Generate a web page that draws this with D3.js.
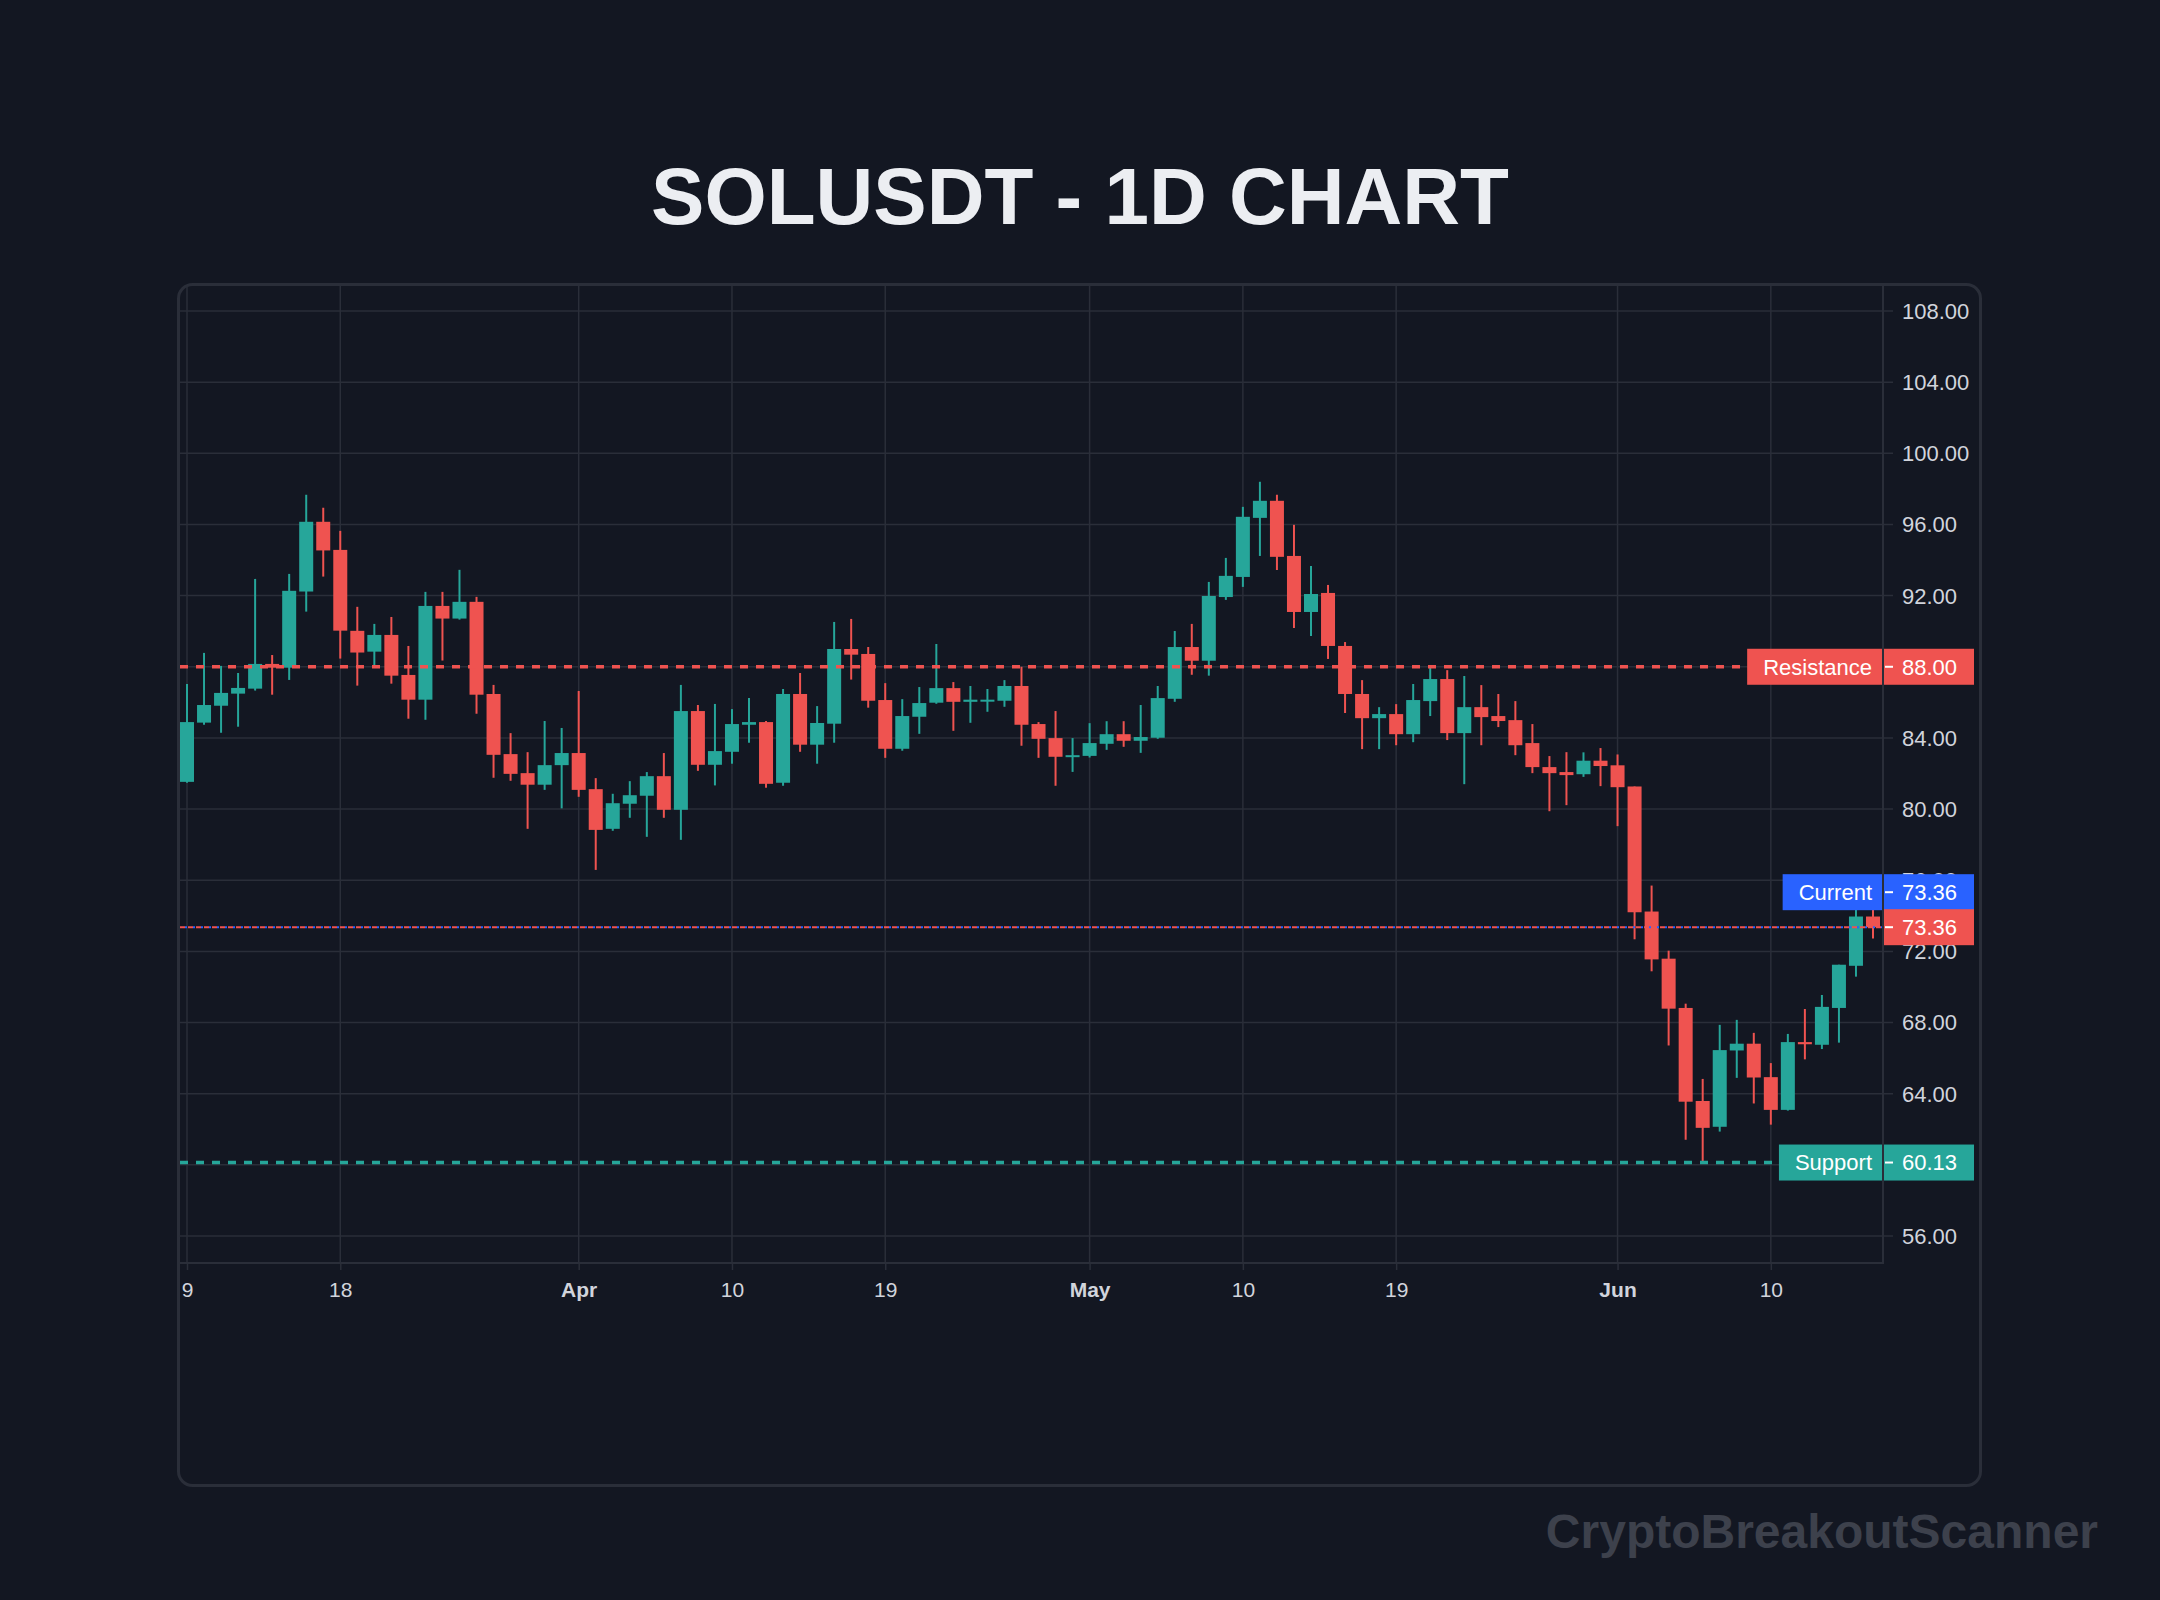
<!DOCTYPE html>
<meta charset="utf-8">
<style>
body { margin: 0; background: #131722; }
svg { display: block; }
text { font-family: "Liberation Sans", Arial, sans-serif; }
</style>
<body>
<script src="https://d3js.org/d3.v7.min.js"></script>
<script>

var width = 2160
var height = 1600

// daily candles, starting 9 March
var startDate = new Date(2024, 2, 9)

var opens = [81.53,84.86,85.81,86.49,86.77,88.16,87.95,92.23,96.15,94.57,
  90.02,88.85,89.79,87.54,86.15,91.42,90.71,91.65,86.47,83.09,
  82.02,81.37,82.47,83.15,81.12,78.89,80.30,80.75,81.85,79.96,
  85.51,82.49,83.22,84.74,84.89,81.48,86.47,83.62,84.80,89.00,
  88.72,86.13,83.39,85.19,85.98,86.80,86.03,86.09,86.09,86.92,
  84.78,83.99,82.94,82.99,83.67,84.21,83.84,84.01,86.20,89.11,
  88.34,91.92,93.05,96.37,97.33,94.23,91.08,92.15,89.17,86.47,
  85.11,85.34,84.21,86.07,87.31,84.27,85.73,85.23,85.00,83.71,
  82.36,82.08,81.96,82.72,82.46,81.27,74.24,71.59,68.82,63.59,
  62.14,66.43,66.81,64.93,63.09,66.90,66.75,68.82,71.19,73.96]

var highs = [87.03,88.78,88.05,87.65,92.94,88.66,93.22,97.67,96.94,95.64,
  91.37,90.41,90.80,89.17,92.21,92.21,93.45,91.93,86.98,84.27,
  83.20,84.95,84.56,86.64,81.74,80.86,81.57,82.08,83.15,86.98,
  85.85,85.91,85.62,86.24,84.95,86.75,87.65,85.79,90.52,90.69,
  89.11,87.08,86.18,86.86,89.28,87.14,86.92,86.75,87.25,88.00,
  84.89,85.51,83.99,84.83,84.94,84.94,85.85,86.92,90.01,90.41,
  92.77,94.12,96.99,98.40,97.67,95.98,93.67,92.60,89.39,87.25,
  85.73,85.90,87.03,87.98,87.81,87.48,86.97,86.47,86.07,84.78,
  82.98,83.20,83.19,83.43,83.07,81.27,75.70,72.04,69.06,64.83,
  67.87,68.15,67.42,65.72,67.36,68.76,69.55,71.25,76.09,74.40]

var lows = [81.48,84.74,84.29,84.63,86.66,86.43,87.26,91.10,93.07,88.46,
  86.94,88.06,87.05,85.08,85.02,88.35,90.65,85.36,81.76,81.59,
  78.89,81.08,80.04,80.69,76.58,78.78,79.51,78.44,79.51,78.27,
  82.15,81.33,82.55,83.73,81.20,81.31,83.22,82.55,83.73,87.28,
  85.70,82.88,83.28,84.23,85.92,84.40,84.85,85.47,85.75,83.56,
  82.88,81.31,82.09,82.90,83.33,83.50,83.16,83.95,86.03,87.55,
  87.50,91.76,92.49,94.23,93.44,90.18,89.73,88.44,85.40,83.37,
  83.37,83.59,83.76,85.23,83.88,81.40,83.59,84.61,83.03,82.02,
  79.88,80.22,81.81,81.29,79.04,72.68,70.88,66.71,61.41,60.07,
  61.87,64.89,63.45,62.26,63.05,65.93,66.51,66.87,70.58,72.72]

var closes = [84.89,85.85,86.53,86.81,88.16,87.95,92.27,96.15,94.54,90.03,
  88.80,89.79,87.50,86.15,91.42,90.71,91.65,86.43,83.05,81.98,
  81.37,82.47,83.15,81.08,78.83,80.33,80.78,81.85,79.96,85.51,
  82.49,83.26,84.78,84.89,81.42,86.47,83.62,84.84,89.00,88.68,
  86.09,83.39,85.23,85.96,86.80,86.03,86.15,86.15,86.92,84.74,
  83.95,82.94,83.03,83.71,84.21,83.84,84.05,86.24,89.11,88.34,
  91.98,93.11,96.43,97.33,94.18,91.08,92.09,89.17,86.47,85.11,
  85.34,84.21,86.13,87.31,84.27,85.73,85.17,84.95,83.59,82.36,
  82.02,81.91,82.72,82.42,81.23,74.20,71.55,68.78,63.55,62.08,
  66.45,66.81,64.91,63.09,66.90,66.78,68.88,71.25,73.96,73.36]

var tickDates = [new Date(2024,2,9), new Date(2024,2,18), new Date(2024,3,1),
  new Date(2024,3,10), new Date(2024,3,19), new Date(2024,4,1), new Date(2024,4,10),
  new Date(2024,4,19), new Date(2024,5,1), new Date(2024,5,10)]
var tickLabels = ["9", "18", "Apr", "10", "19", "May", "10", "19", "Jun", "10"]

var priceTicks = [56, 60, 64, 68, 72, 76, 80, 84, 88, 92, 96, 100, 104, 108]

var resistance = 88.00
var support = 60.13
var current = 73.36

var upColor = "#26a69a"
var downColor = "#ef5350"
var blue = "#2962ff"
var gridColor = "#2a2e39"
var textColor = "#d1d4dc"

var dates = opens.map(function(d, i) { return d3.timeDay.offset(startDate, i) })

// plot box
var plotLeft = 179, plotRight = 1884, plotTop = 286, plotBottom = 1263

var x = d3.scaleTime()
    .domain([dates[0], dates[dates.length - 1]])
    .range([187, 1873])

var y = d3.scaleLinear()
    .domain([56, 108])
    .range([1236, 311])

var svg = d3.select("body").append("svg")
    .attr("width", width)
    .attr("height", height)

svg.append("rect")
    .attr("width", width)
    .attr("height", height)
    .attr("fill", "#131722")

svg.append("text")
    .attr("x", width / 2)
    .attr("y", 224)
    .attr("text-anchor", "middle")
    .attr("font-size", 80)
    .attr("font-weight", "bold")
    .attr("fill", "#eceef2")
    .text("SOLUSDT - 1D CHART")

svg.append("rect")
    .attr("x", 178.5)
    .attr("y", 284.5)
    .attr("width", 1802)
    .attr("height", 1201)
    .attr("rx", 14)
    .attr("fill", "none")
    .attr("stroke", gridColor)
    .attr("stroke-width", 3)

// grid
var grid = svg.append("g")
    .attr("stroke", gridColor)
    .attr("stroke-width", 1.5)

grid.selectAll(".hgrid")
    .data(priceTicks)
  .enter().append("line")
    .attr("class", "hgrid")
    .attr("x1", plotLeft)
    .attr("x2", plotRight + 9)
    .attr("y1", function(d) { return y(d) })
    .attr("y2", function(d) { return y(d) })

grid.selectAll(".vgrid")
    .data(tickDates)
  .enter().append("line")
    .attr("class", "vgrid")
    .attr("x1", function(d) { return x(d) })
    .attr("x2", function(d) { return x(d) })
    .attr("y1", plotTop)
    .attr("y2", plotBottom)

// x axis
var xAxis = d3.axisBottom(x)
    .tickValues(tickDates)
    .tickSize(7)
    .tickPadding(12)
    .tickFormat(function(d, i) { return tickLabels[i] })

var xa = svg.append("g")
    .attr("transform", "translate(0," + plotBottom + ")")
    .call(xAxis)
xa.select(".domain").remove()
xa.selectAll(".tick line").attr("stroke", gridColor).attr("stroke-width", 1.5)
xa.selectAll(".tick text")
    .attr("fill", textColor)
    .attr("font-size", 21)
    .attr("font-family", "Liberation Sans, Arial, sans-serif")
    .attr("font-weight", function(d, i) { return /[A-Za-z]/.test(tickLabels[i]) ? "bold" : "normal" })

// candles
var candles = svg.append("g")
    .selectAll("g")
    .data(dates)
  .enter().append("g")

candles.append("line")
    .attr("x1", function(d) { return x(d) })
    .attr("x2", function(d) { return x(d) })
    .attr("y1", function(d, i) { return y(highs[i]) })
    .attr("y2", function(d, i) { return y(lows[i]) })
    .attr("stroke-width", 2)
    .attr("stroke", function(d, i) { return closes[i] >= opens[i] ? upColor : downColor })

candles.append("rect")
    .attr("x", function(d) { return x(d) - 7 })
    .attr("width", 14)
    .attr("y", function(d, i) { return y(Math.max(opens[i], closes[i])) })
    .attr("height", function(d, i) { return Math.max(2, Math.abs(y(opens[i]) - y(closes[i]))) })
    .attr("fill", function(d, i) { return closes[i] >= opens[i] ? upColor : downColor })

// support / resistance lines go under the labels
var levels = svg.append("g")

function level(price, color, endX) {
  levels.append("line")
      .attr("x1", plotLeft + 1)
      .attr("x2", endX)
      .attr("y1", y(price))
      .attr("y2", y(price))
      .attr("stroke", color)
      .attr("stroke-width", 3.5)
      .attr("stroke-dasharray", "8 8")
}

// last price line: red and blue dashes
svg.append("line")
    .attr("x1", plotLeft + 1).attr("x2", plotRight)
    .attr("y1", y(current)).attr("y2", y(current))
    .attr("stroke", downColor)
    .attr("stroke-width", 2)
    .attr("stroke-dasharray", "5 3")
svg.append("line")
    .attr("x1", plotLeft + 1).attr("x2", plotRight)
    .attr("y1", y(current)).attr("y2", y(current))
    .attr("stroke", blue)
    .attr("stroke-width", 2)
    .attr("stroke-dasharray", "2 6")
    .attr("stroke-dashoffset", -5)

svg.append("line")
    .attr("x1", plotLeft).attr("x2", plotRight)
    .attr("y1", plotBottom).attr("y2", plotBottom)
    .attr("stroke", gridColor).attr("stroke-width", 2)

// y labels
svg.append("g").selectAll("text")
    .data(priceTicks)
  .enter().append("text")
    .attr("x", 1902)
    .attr("y", function(d) { return y(d) })
    .attr("dy", "0.36em")
    .attr("font-size", 22)
    .attr("fill", textColor)
    .text(function(d) { return d.toFixed(2) })

// label boxes on the price scale
function priceLabel(centerY, name, value, color) {
  var g = svg.append("g")
  var rect = g.append("rect")
      .attr("fill", color)
      .attr("y", centerY - 18)
      .attr("height", 36)
  var nameW = 0
  if (name) {
    var t = g.append("text")
        .attr("x", 1872)
        .attr("y", centerY)
        .attr("dy", "0.36em")
        .attr("text-anchor", "end")
        .attr("font-size", 22)
        .attr("fill", "#ffffff")
        .text(name)
    nameW = t.node().getComputedTextLength() + 26
  }
  g.append("line")
      .attr("x1", 1885).attr("x2", 1893)
      .attr("y1", centerY).attr("y2", centerY)
      .attr("stroke", "#ffffff")
      .attr("stroke-width", 2)
  g.append("text")
      .attr("x", 1902)
      .attr("y", centerY)
      .attr("dy", "0.36em")
      .attr("font-size", 22)
      .attr("fill", "#ffffff")
      .text(value.toFixed(2))
  rect.attr("x", 1882 - nameW).attr("width", 92 + nameW)
  return 1882 - nameW
}

var rx = priceLabel(y(resistance), "Resistance", resistance, downColor)
var sx = priceLabel(y(support), "Support", support, upColor)
level(resistance, downColor, rx - 6)
level(support, upColor, sx - 6)

priceLabel(y(current) - 35, "Current", current, blue)
priceLabel(y(current), null, current, downColor)

svg.append("line")
    .attr("x1", plotRight - 1).attr("x2", plotRight - 1)
    .attr("y1", plotTop).attr("y2", plotBottom)
    .attr("stroke", gridColor).attr("stroke-width", 2)

svg.append("text")
    .attr("x", 2098)
    .attr("y", 1548)
    .attr("text-anchor", "end")
    .attr("font-size", 48)
    .attr("font-weight", "bold")
    .attr("fill", "#3d414c")
    .text("CryptoBreakoutScanner")

</script>
